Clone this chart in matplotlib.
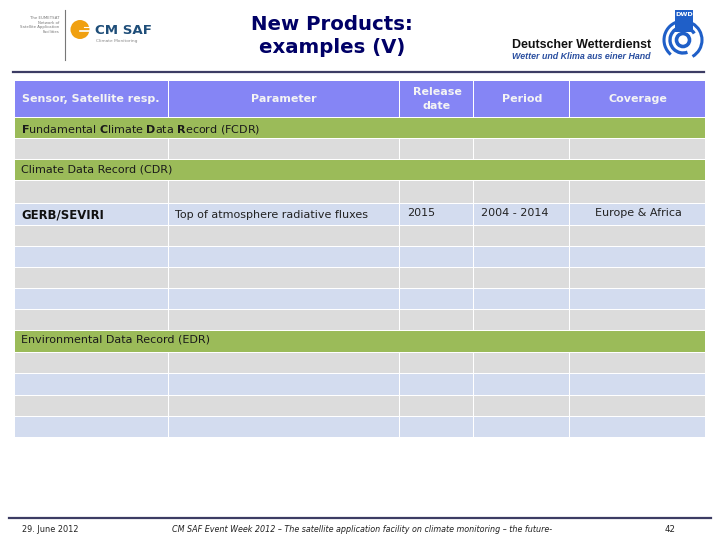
import matplotlib
matplotlib.use('Agg')
import matplotlib.pyplot as plt
from matplotlib.patches import Arc, Circle, Rectangle

# table layout, in pixels
col_edges = [15, 169, 400, 474, 570, 705]
row_tops = [81, 118, 139, 160, 181, 204, 226, 247, 268, 289, 310, 331, 353, 374, 396, 417]
row_bottoms = [117, 138, 159, 180, 203, 225, 246, 267, 288, 309, 330, 352, 373, 395, 416, 437]
row_kinds = ['head', 'band', 'gray', 'band', 'gray', 'blue', 'gray', 'blue', 'gray', 'blue', 'gray',
             'band', 'gray', 'blue', 'gray', 'blue']
kind_colors = {'head': '#8585f5', 'band': '#9bbb59', 'gray': '#dcdcdc', 'blue': '#d3dcef'}

header_labels = ['Sensor, Satellite resp.', 'Parameter', 'Release\ndate', 'Period', 'Coverage']
header_x = [91, 284, 437, 522, 638]
gerb_row = ['GERB/SEVIRI', 'Top of atmosphere radiative fluxes', '2015', '2004 - 2014', 'Europe & Africa']
gerb_x = [21, 175, 407, 481, 638]
navy = '#000066'
rule = '#3c3c64'
dwd_blue = '#1f5fc8'

fig = plt.figure(figsize=(7.2, 5.4), dpi=100)
ax = fig.add_axes([0, 0, 1, 1])
ax.set_xlim(0, 720)
ax.set_ylim(540, 0)
ax.axis('off')

for top, bottom, kind in zip(row_tops, row_bottoms, row_kinds):
    if kind == 'band':
        ax.add_patch(Rectangle((col_edges[0], top), col_edges[-1] - col_edges[0], bottom - top,
                               color=kind_colors[kind], lw=0))
    else:
        for left, right in zip(col_edges[:-1], col_edges[1:]):
            gap = 1 if right != col_edges[-1] else 0
            ax.add_patch(Rectangle((left, top), right - left - gap, bottom - top, color=kind_colors[kind], lw=0))

# title and rules
ax.text(332, 36, 'New Products:\nexamples (V)', color=navy, fontsize=14.2, fontweight='bold', ha='center',
        va='center', linespacing=1.3)
ax.plot([13, 704], [71.5, 71.5], color=rule, lw=1.6)
ax.plot([9, 711], [518, 518], color=rule, lw=1.6)

# header row
for x, label in zip(header_x, header_labels):
    ax.text(x, 99, label, color='#f4f4f4', fontsize=8, fontweight='bold', ha='center', va='center',
            linespacing=1.4)

# section bands
ax.text(21, 129, r'$\mathbf{F}$undamental $\mathbf{C}$limate $\mathbf{D}$ata $\mathbf{R}$ecord (FCDR)',
        color='#1a1a1a', fontsize=8, va='center')
ax.text(21, 169, 'Climate Data Record (CDR)', color='#1a1a1a', fontsize=8, va='center')
ax.text(21, 340, 'Environmental Data Record (EDR)', color='#1a1a1a', fontsize=8, va='center')

# the one filled row
ax.text(gerb_x[0], 215, gerb_row[0], color='#111111', fontsize=8.4, fontweight='bold', va='center')
ax.text(gerb_x[1], 215, gerb_row[1], color='#222222', fontsize=8, va='center')
ax.text(gerb_x[2], 213, gerb_row[2], color='#222222', fontsize=8, va='center')
ax.text(gerb_x[3], 213, gerb_row[3], color='#222222', fontsize=8, va='center')
ax.text(gerb_x[4], 213, gerb_row[4], color='#222222', fontsize=8, va='center', ha='center')

# footer
ax.text(22, 529, '29. June 2012', color='#222222', fontsize=5.9, va='center')
ax.text(362, 529, 'CM SAF Event Week 2012 – The satellite application facility on climate monitoring – the future-',
        color='#222222', fontsize=5.8, style='italic', va='center', ha='center')
ax.text(670, 529, '42', color='#222222', fontsize=6.2, va='center', ha='center')

# CM SAF logo
ax.text(59, 25, 'The EUMETSAT\nNetwork of\nSatellite Application\nFacilities', color='#777777', fontsize=2.8,
        ha='right', va='center', linespacing=1.2)
ax.plot([64.5, 64.5], [10, 60], color='#777777', lw=0.8)
ax.add_patch(Circle((80, 29.5), 9.5, color='#f0a010', lw=0))
ax.plot([80, 91], [31, 31], color='#ffffff', lw=1.2)
ax.plot([84, 91], [27, 27], color='#ffffff', lw=0.8)
ax.text(95, 30, 'CM SAF', color='#1f4e79', fontsize=9.6, fontweight='bold', va='center')
ax.text(96, 41, 'Climate Monitoring', color='#888888', fontsize=3.2, va='center')

# DWD logo
ax.text(651, 45, 'Deutscher Wetterdienst', color='#111111', fontsize=8.9, fontweight='bold',
        family='Liberation Sans', ha='right', va='center')
ax.text(651, 56.5, 'Wetter und Klima aus einer Hand', color='#2a4fa0', fontsize=6.4, fontweight='bold',
        style='italic', family='Liberation Sans', ha='right', va='center')
ax.add_patch(Rectangle((675, 10), 18, 22, color=dwd_blue, lw=0))
ax.text(684, 15, 'DWD', color='#ffffff', fontsize=4.6, fontweight='bold', ha='center', va='center')
ax.add_patch(Arc((683, 40), 38, 38, theta1=-60, theta2=60, color=dwd_blue, lw=2.2))
ax.add_patch(Arc((683, 40), 38, 38, theta1=130, theta2=260, color=dwd_blue, lw=2.2))
ax.add_patch(Arc((683, 40), 26, 26, theta1=70, theta2=330, color=dwd_blue, lw=2.4))
ax.add_patch(Circle((683, 40), 6.5, fill=False, ec=dwd_blue, lw=2.6))

fig.savefig('out.png', dpi=100, facecolor='white')
